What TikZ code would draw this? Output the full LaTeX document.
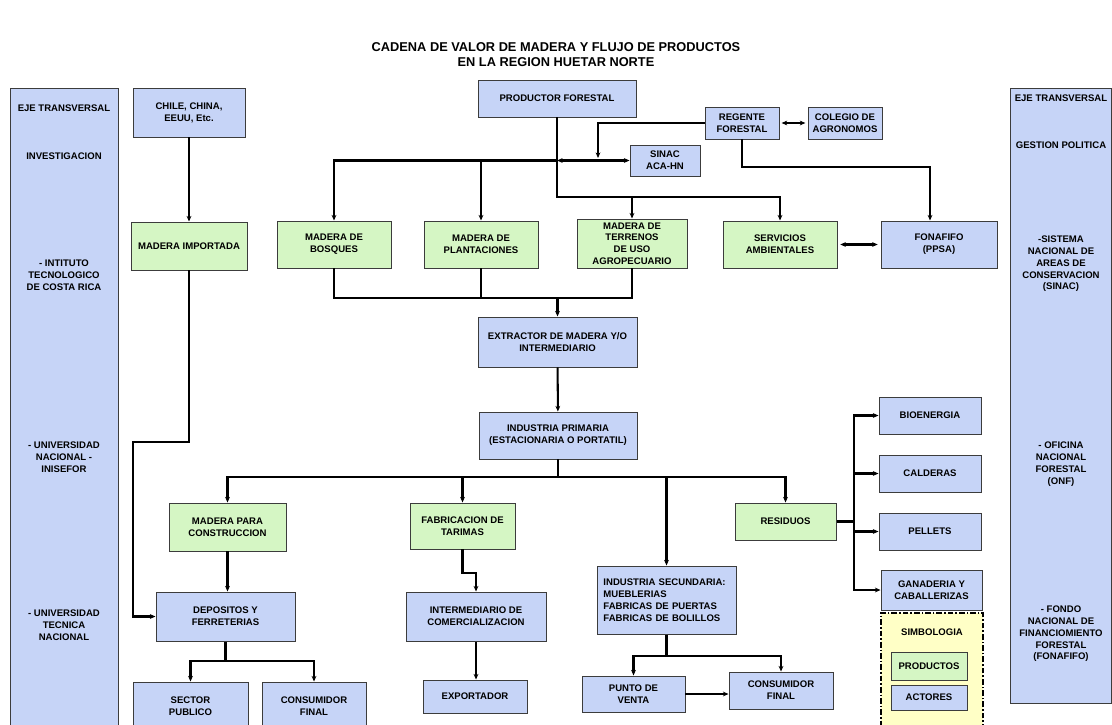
\documentclass[tikz,border=0pt]{standalone}
\usepackage{fontspec}
\setmainfont{Liberation Sans}
\usetikzlibrary{arrows.meta}
\definecolor{HNBlue}{HTML}{C6D4F7}
\definecolor{HNGreen}{HTML}{D5F6C4}
\definecolor{HNYellow}{HTML}{FFFFC6}
\definecolor{HNEdge}{HTML}{3C3C3C}
\newcommand\hnfont{\fontsize{6.8}{8.4}\selectfont\bfseries}
\tikzset{
  size/.style 2 args={minimum width=#1*0.025cm,minimum height=#2*0.025cm},
  actor/.style={draw=HNEdge,fill=HNBlue,line width=.7pt,inner sep=0pt,align=center,font=\hnfont},
  product/.style={actor,fill=HNGreen},
  legendbox/.style={draw=black,fill=HNYellow,line width=.9pt,inner sep=0pt,
    dash pattern=on 4pt off 1.5pt on 1pt off 1.5pt},
  sidetext/.style={align=center,font=\hnfont},
  link/.style={line width=1.45pt},
  flow/.style={link,-{Stealth[length=4pt,width=3.4pt]}},
  both/.style={link,{Stealth[length=4pt,width=3.4pt]}-{Stealth[length=4pt,width=3.4pt]}},
}

\begin{document}
\begin{tikzpicture}[x=0.025cm,y=-0.025cm]
\path[use as bounding box] (0,0) rectangle (1112,724);
\clip (0,0) rectangle (1112,724);
\fill[white] (0,0) rectangle (1112,724);

% titulo
\node[align=center,font=\fontsize{9.1}{10.7}\selectfont\bfseries] (title) at (556,55)
  {CADENA DE VALOR DE MADERA Y FLUJO DE PRODUCTOS\\EN LA REGION HUETAR NORTE};

% ejes transversales
\node[actor,size={108}{652}] (sideL) at (64,414) {};
\node[sidetext] (eyeL) at (64,108) {EJE TRANSVERSAL};
\node[sidetext] (invL) at (64,156) {INVESTIGACION};
\node[sidetext] (itcr) at (64,275) {- INTITUTO\\TECNOLOGICO\\DE COSTA RICA};
\node[sidetext] (una) at (64,457) {- UNIVERSIDAD\\NACIONAL -\\INISEFOR};
\node[sidetext] (utn) at (64,625) {- UNIVERSIDAD\\TECNICA\\NACIONAL};

\node[actor,size={101}{615}] (sideR) at (1060.5,395.5) {};
\node[sidetext] (eyeR) at (1061,98) {EJE TRANSVERSAL};
\node[sidetext] (gesR) at (1061,145) {GESTION POLITICA};
\node[sidetext] (sinacR) at (1061,264) {-SISTEMA\\NACIONAL DE\\AREAS DE\\CONSERVACION\\(SINAC)};
\node[sidetext] (onfR) at (1061,464) {- OFICINA\\NACIONAL\\FORESTAL\\(ONF)};
\node[sidetext] (fonR) at (1061,634) {- FONDO\\NACIONAL DE\\FINANCIOMIENTO\\FORESTAL\\(FONAFIFO)};

% origen de la madera
\node[actor,size={112}{49}] (chile) at (189,112.5) {CHILE, CHINA,\\EEUU, Etc.};
\node[product,size={116}{48}] (importada) at (189,246) {MADERA IMPORTADA};
\node[actor,size={158}{37}] (productor) at (557,98.5) {PRODUCTOR FORESTAL};
\node[actor,size={74}{32}] (regente) at (742,123) {REGENTE\\FORESTAL};
\node[actor,size={74}{32}] (colegio) at (845,123) {COLEGIO DE\\AGRONOMOS};
\node[actor,size={70}{31}] (sinac) at (665,160.5) {SINAC\\ACA-HN};
\node[product,size={114}{47}] (bosques) at (334,244.5) {MADERA DE\\BOSQUES};
\node[product,size={114}{47}] (plantaciones) at (481,244.5) {MADERA DE\\PLANTACIONES};
\node[product,size={110}{49}] (terrenos) at (632,243.5) {MADERA DE\\TERRENOS\\DE USO\\AGROPECUARIO};
\node[product,size={114}{47}] (servicios) at (780,244.5) {SERVICIOS\\AMBIENTALES};
\node[actor,size={116}{47}] (fonafifo) at (939,244.5) {FONAFIFO\\(PPSA)};

% transformacion
\node[actor,size={159}{50}] (extractor) at (557.5,342) {EXTRACTOR DE MADERA Y/O\\INTERMEDIARIO};
\node[actor,size={158}{47}] (primaria) at (558,435.5) {INDUSTRIA PRIMARIA\\(ESTACIONARIA O PORTATIL)};
\node[product,size={117}{48}] (construccion) at (227.5,527) {MADERA PARA\\CONSTRUCCION};
\node[product,size={105}{46}] (tarimas) at (462.5,526) {FABRICACION DE\\TARIMAS};
\node[product,size={101}{37}] (residuos) at (785.5,521.5) {RESIDUOS};
\node[actor,size={102}{37}] (bioenergia) at (930,415.5) {BIOENERGIA};
\node[actor,size={102}{37}] (calderas) at (930,473.5) {CALDERAS};
\node[actor,size={102}{37}] (pellets) at (930,531.5) {PELLETS};
\node[actor,size={101}{40}] (ganaderia) at (931.5,590) {GANADERIA Y\\CABALLERIZAS};
\node[actor,size={139}{68},align=left,text width=3.15cm] (secundaria) at (666.5,600)
  {INDUSTRIA SECUNDARIA:\\MUEBLERIAS\\FABRICAS DE PUERTAS\\FABRICAS DE BOLILLOS};

% comercializacion
\node[actor,size={139}{49}] (depositos) at (225.5,616.5) {DEPOSITOS Y\\FERRETERIAS};
\node[actor,size={140}{49}] (intermediario) at (476,616.5) {INTERMEDIARIO DE\\COMERCIALIZACION};
\node[actor,size={115}{49}] (publico) at (190.5,706.5) {SECTOR\\PUBLICO};
\node[actor,size={104}{49}] (consumidorA) at (314,706.5) {CONSUMIDOR\\FINAL};
\node[actor,size={104}{33}] (exportador) at (475,696.5) {EXPORTADOR};
\node[actor,size={103}{36}] (venta) at (633.5,694) {PUNTO DE\\VENTA};
\node[actor,size={104}{37}] (consumidorB) at (781,690.5) {CONSUMIDOR\\FINAL};

% simbologia
\node[legendbox,size={102}{127}] (simbologia) at (932,676.5) {};
\node[font=\hnfont] (simbtitle) at (932,632) {SIMBOLOGIA};
\node[product,size={76}{28}] (productos) at (929,666) {PRODUCTOS};
\node[actor,size={76}{25}] (actores) at (929,697.5) {ACTORES};

% conexiones
\draw[flow] (chile) -- (chile.south |- importada.north);
\coordinate (bImp) at (133,442);
\draw[flow] (importada.south) |- (bImp) |- (depositos.west);

\coordinate (bProd) at (780,197);
\draw[flow] (productor.south) |- (bProd) -- (servicios.north);
\draw[flow] (terrenos.north |- bProd) -- (terrenos.north);
\draw[both] (productor.south |- sinac.west) -- (sinac.west);
\draw[flow] (productor.south |- sinac.west) -| (bosques.north);
\draw[flow] (plantaciones.north |- sinac.west) -- (plantaciones.north);
\coordinate (bReg) at (598,158);
\draw[flow] (regente.west) -| (bReg);
\draw[both,shorten <=1.5pt,shorten >=1.5pt] (regente) -- (colegio);
\coordinate (bFon) at (930,167);
\draw[flow] (regente.south) |- (bFon) -- (bFon |- fonafifo.north);
\draw[both,shorten <=2pt,shorten >=2pt] (servicios) -- (fonafifo);

\coordinate (jExt) at (557.5,298);
\draw[link] (bosques.south) |- (jExt) -| (terrenos.south);
\draw[link] (plantaciones.south) -- (plantaciones.south |- jExt);
\draw[flow] (jExt) -- (extractor.north);
\draw[flow] (extractor) -- (primaria);

\coordinate (jPri) at (558,477);
\draw[link] (primaria) -- (jPri);
\draw[flow] (jPri) -| (construccion.north);
\draw[flow] (jPri) -| (residuos.north);
\draw[flow] (tarimas.north |- jPri) -- (tarimas.north);
\draw[flow] (secundaria.north |- jPri) -- (secundaria.north);

\coordinate (jRes) at (854,521.5);
\draw[link] (residuos) -- (jRes);
\foreach \dest in {bioenergia,calderas,pellets,ganaderia}
  \draw[flow] (jRes) |- (\dest.west);

\draw[flow] (construccion) -- (construccion.south |- depositos.north);
\coordinate (jDep) at (225.5,661);
\draw[link] (depositos) -- (jDep);
\draw[flow] (jDep) -| (publico.north);
\draw[flow] (jDep) -| (consumidorA.north);

\coordinate (bTar) at (462.5,573);
\draw[flow] (tarimas) -- (bTar) -| (intermediario.north);
\draw[flow] (intermediario.south) -- (intermediario.south |- exportador.north);

\coordinate (jSec) at (666.5,656);
\draw[link] (secundaria) -- (jSec);
\draw[flow] (jSec) -| (venta.north);
\draw[flow] (jSec) -| (consumidorB.north);
\draw[flow] (venta.east) -- (venta.east -| consumidorB.west);
\end{tikzpicture}
\end{document}
